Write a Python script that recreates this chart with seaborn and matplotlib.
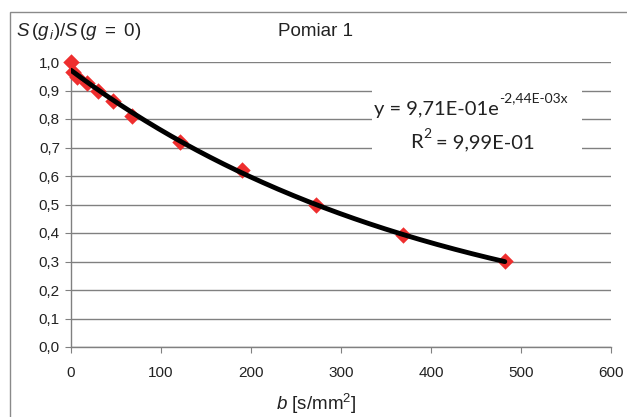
import numpy as np
import pandas as pd
import matplotlib
matplotlib.use("Agg")
import matplotlib.pyplot as plt
from matplotlib.patches import Rectangle
import seaborn as sns

# measured signal attenuation vs. diffusion weighting
b_values = [0, 2, 7, 18, 30, 47, 68, 121, 190, 272, 369, 482]
signal_ratio = [1.000, 0.965, 0.948, 0.925, 0.898, 0.862, 0.812, 0.718, 0.620, 0.498, 0.392, 0.302]

# exponential trendline parameters
fit_amp = 0.971
fit_rate = -0.00244
fit_r2 = 0.999

x_ticks = [0, 100, 200, 300, 400, 500, 600]
y_ticks = [0.0, 0.1, 0.2, 0.3, 0.4, 0.5, 0.6, 0.7, 0.8, 0.9, 1.0]

sns.set_theme(style="white")
plt.rcParams["font.family"] = ["Liberation Sans", "DejaVu Sans"]
plt.rcParams["mathtext.fontset"] = "custom"
plt.rcParams["mathtext.rm"] = "Liberation Sans"
plt.rcParams["mathtext.it"] = "Liberation Sans:italic"
plt.rcParams["mathtext.bf"] = "Liberation Sans:bold"

W, H = 627, 417
fig = plt.figure(figsize=(W / 100, H / 100), dpi=100)
fig.patch.set_facecolor("white")

def fx(px):
    return px / W

def fy(py):
    return 1 - py / H

ax = fig.add_axes([fx(71), fy(347), fx(611) - fx(71), fy(62) - fy(347)])

# outer chart frame
fig.patches.append(Rectangle((fx(10), fy(430)), 1.2, fy(12) - fy(430),
                             transform=fig.transFigure, fill=False,
                             edgecolor="#8a8a8a", linewidth=1.0, zorder=0))

df = pd.DataFrame({"b": b_values, "ratio": signal_ratio})
sns.scatterplot(data=df, x="b", y="ratio", marker="D", s=70, color="#EE2E2E",
                edgecolor="#EE2E2E", linewidth=0, ax=ax, zorder=3, clip_on=False)

b_fit = np.linspace(0, max(b_values), 200)
trend = pd.DataFrame({"b": b_fit, "ratio": fit_amp * np.exp(fit_rate * b_fit)})
sns.lineplot(data=trend, x="b", y="ratio", color="black", linewidth=3.5, ax=ax, zorder=4)

ax.set_xlim(0, 600)
ax.set_ylim(0, 1.0)
ax.set_xticks(x_ticks)
ax.set_yticks(y_ticks)
ax.set_xticklabels([str(t) for t in x_ticks])
ax.set_yticklabels([f"{t:.1f}".replace(".", ",") for t in y_ticks])
ax.tick_params(axis="both", labelsize=11, length=4, width=0.8,
               direction="out", color="#808080")
ax.tick_params(axis="x", pad=10)
ax.tick_params(axis="y", pad=4)
ax.xaxis.set_ticks_position("bottom")
ax.yaxis.set_ticks_position("left")
for t in ax.get_xticklabels() + ax.get_yticklabels():
    t.set_color("#222222")

ax.yaxis.grid(True, color="#808080", linewidth=1.0)
ax.xaxis.grid(False)
ax.set_axisbelow(True)
for side in ["top", "right"]:
    ax.spines[side].set_visible(False)
for side in ["left", "bottom"]:
    ax.spines[side].set_color("#808080")
    ax.spines[side].set_linewidth(1.0)

ax.set_xlabel("")
ax.set_ylabel("")

fig.text(fx(16), fy(32), r"$S\,(g_{\,i})/S\,(g\ =\ 0)$", fontsize=13.5,
         ha="left", va="center", color="#222222")
fig.text(fx(316), fy(32), "Pomiar 1", fontsize=13.5, ha="center", va="center",
         color="#222222")
fig.text(fx(316), fy(404), r"$b$ [s/mm$^2$]", fontsize=13.5, ha="center",
         va="center", color="#222222")

def sci(v):
    m, e = f"{v:.2E}".split("E")
    return f"{m.replace('.', ',')}E{int(e):+03d}".replace("+", "")

# white label area behind the trendline equation
fig.patches.append(Rectangle((fx(372), fy(158)), fx(582) - fx(372), fy(80) - fy(158),
                             transform=fig.transFigure, facecolor="white",
                             edgecolor="none", zorder=5))

eq_font = ["Lato", "DejaVu Sans"]
main = fig.text(fx(374), fy(110), f"y = {sci(fit_amp)}e", fontsize=14.5,
                family=eq_font, ha="left", va="center", color="#222222", zorder=10)
fig.canvas.draw()
bb = main.get_window_extent()
fig.text(bb.x1 / W + 0.001, fy(98), f"{sci(fit_rate)}x", fontsize=10,
         family=eq_font, ha="left", va="center", color="#222222", zorder=10)
r2 = fig.text(fx(410), fy(143), "R", fontsize=14.5, family=eq_font,
              ha="left", va="center", color="#222222", zorder=10)
fig.canvas.draw()
rb = r2.get_window_extent()
sup = fig.text(rb.x1 / W + 0.001, fy(134), "2", fontsize=10, family=eq_font,
               ha="left", va="center", color="#222222", zorder=10)
fig.canvas.draw()
sb = sup.get_window_extent()
fig.text(sb.x1 / W + 0.008, fy(143), f"= {sci(fit_r2)}", fontsize=14.5,
         family=eq_font, ha="left", va="center", color="#222222", zorder=10)

fig.savefig("out.png", dpi=100)
